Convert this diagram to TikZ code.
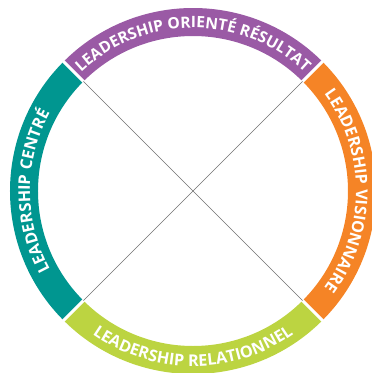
\documentclass[tikz,border=0pt]{standalone}
\usepackage{fontspec}
\setmainfont{Open Sans}
\usetikzlibrary{decorations.text}
\definecolor{cpurple}{HTML}{9A5AA5}
\definecolor{corange}{HTML}{F58426}
\definecolor{clime}{HTML}{BCD441}
\definecolor{cteal}{HTML}{009690}
\definecolor{cline}{HTML}{707070}
\begin{document}
\begin{tikzpicture}[
  gap/.style={draw=white, line width=3pt},
  xline/.style={draw=cline, line width=0.6pt},
  arctext/.style 2 args={decorate, decoration={text along path, text align=center,
    text={|\fontsize{#1}{18}\selectfont\bfseries\color{white}|#2}}}
]
\clip (-193pt,-182pt) rectangle (179pt,191pt);
\useasboundingbox (-193pt,-182pt) rectangle (179pt,191pt);
\def\ri{155pt}
\def\ro{183pt}
% ring segments
\fill[cpurple] (45:\ri) arc[start angle=45,end angle=135,radius=\ri] -- (135:\ro) arc[start angle=135,end angle=45,radius=\ro] -- cycle;
\fill[cteal] (135:\ri) arc[start angle=135,end angle=225,radius=\ri] -- (225:\ro) arc[start angle=225,end angle=135,radius=\ro] -- cycle;
\fill[clime] (225:\ri) arc[start angle=225,end angle=315,radius=\ri] -- (315:\ro) arc[start angle=315,end angle=225,radius=\ro] -- cycle;
\fill[corange] (-45:\ri) arc[start angle=-45,end angle=45,radius=\ri] -- (45:\ro) arc[start angle=45,end angle=-45,radius=\ro] -- cycle;
% gaps
\foreach \a in {45,135,225,315} \draw[gap] (\a:150pt) -- (\a:190pt);
% cross lines
\coordinate (tl) at (135:\ri);
\coordinate (tr) at (45:\ri);
\coordinate (bl) at (225:\ri);
\coordinate (br) at (315:\ri);
\draw[xline] (tl) -- (br);
\draw[xline] (tr) -- (bl);
% texts
\path[arctext={15.6}{LEADERSHIP ORIENTÉ RÉSULTAT}] (155:163pt) arc[start angle=155,end angle=25,radius=163pt];
\path[arctext={16.2}{LEADERSHIP VISIONNAIRE}] (60:163pt) arc[start angle=60,end angle=-60,radius=163pt];
\path[arctext={16.2}{LEADERSHIP CENTRÉ}] (240:163pt) arc[start angle=240,end angle=120,radius=163pt];
\path[arctext={16.2}{LEADERSHIP RELATIONNEL}] (210:175pt) arc[start angle=210,end angle=330,radius=175pt];
\end{tikzpicture}
\end{document}
